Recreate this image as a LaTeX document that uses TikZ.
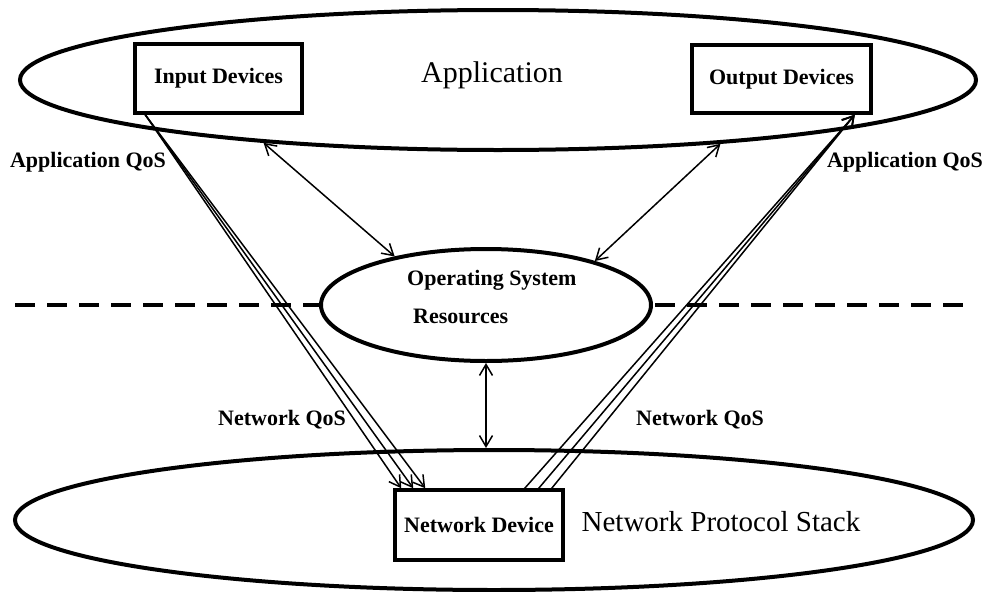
\documentclass[tikz,border=0pt]{standalone}
\usepackage{fontspec}
\setmainfont{Liberation Serif}
\usetikzlibrary{arrows.meta,calc,shapes.geometric}

\begin{document}
\begin{tikzpicture}[x=1pt,y=-1pt,
  region/.style={draw, ellipse, line width=4pt, inner sep=0pt, fill=white},
  devbox/.style={draw, rectangle, line width=3.5pt, fill=white, inner sep=0pt,
                 font=\bfseries\fontsize{22}{24}\selectfont},
  lbl/.style={font=\bfseries\fontsize{22}{24}\selectfont, inner sep=0pt},
  big/.style={font=\fontsize{30}{32}\selectfont, inner sep=0pt},
  barb/.tip={Straight Barb[length=11pt,width=13pt,line width=1.5pt]},
  link/.style={line width=1.5pt, -barb},
  dbl/.style={line width=1.5pt, barb-barb},
  sep/.style={line width=4pt, dash pattern=on 20pt off 12pt}
]
\useasboundingbox (0,0) rectangle (989,592);

% outer layers
\node[region, minimum width=956pt, minimum height=140pt] (app) at (498,80) {};
\node[big] (apptext) at (492,75) {Application};
\node[region, minimum width=958pt, minimum height=140pt] (stack) at (494,520) {};
\node[big, font=\fontsize{29}{31}\selectfont] (stacktext) at (721,522) {Network Protocol Stack};

% separator between user and kernel level
\coordinate (dl) at (15,305);
\coordinate (dr) at (975,305);
\draw[sep] (dl) -- (dr);

% operating system resources
\node[region, minimum width=330pt, minimum height=112pt] (os) at (486,305) {};
\node[lbl, anchor=base west] (ostop) at (407,285) {Operating System};
\node[lbl, anchor=base west] (osbot) at (413,323) {Resources};

% devices
\node[devbox, minimum width=167pt, minimum height=69pt] (in) at (218.5,78.5) {Input Devices};
\node[devbox, minimum width=179pt, minimum height=68pt] (out) at (781.5,79) {Output Devices};
\node[devbox, minimum width=168pt, minimum height=70pt] (nd) at (479,525) {Network Device};

% resource negotiation
\draw[dbl] (app.195.3) -- (os.152.3);
\draw[dbl] (app.344.4) -- (os.22.4);
\draw[dbl] (os.south) -- (os.south |- stack.north);

% data streams
\foreach \dx in {8,20,32}
  \draw[link] ($(in.south west)+(12,0)$) -- ($(nd.north west)+(\dx,0)$);
\foreach \dx in {40,26,13}
  \draw[link] ($(nd.north east)+(-\dx,0)$) -- ($(out.south east)+(-18,0)$);

% QoS labels
\node[lbl] (aqosl) at (88,162) {Application QoS};
\node[lbl] (aqosr) at (905,162) {Application QoS};
\node[lbl] (nqosl) at (282,420) {Network QoS};
\node[lbl] (nqosr) at (700,420) {Network QoS};
\end{tikzpicture}
\end{document}
